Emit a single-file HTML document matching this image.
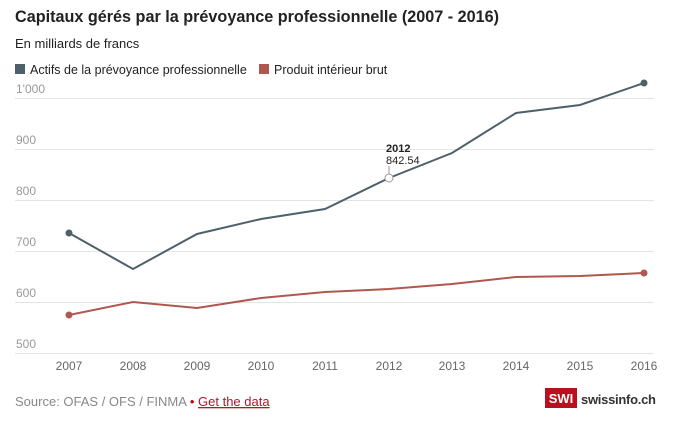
<!DOCTYPE html><html><head><meta charset="utf-8"><style>
body{margin:0;width:694px;height:440px;background:#fff;font-family:"Liberation Sans",sans-serif;overflow:hidden}
</style></head><body>
<svg width="694" height="440" xmlns="http://www.w3.org/2000/svg" font-family="Liberation Sans, sans-serif">
<text x="15" y="22" font-size="16.2" font-weight="bold" fill="#222">Capitaux gérés par la prévoyance professionnelle (2007 - 2016)</text>
<text x="15" y="48" font-size="13" fill="#222">En milliards de francs</text>
<rect x="15" y="64" width="10" height="10" fill="#4e616b"/>
<text x="30" y="74" font-size="12.5" fill="#222">Actifs de la prévoyance professionnelle</text>
<rect x="259" y="64" width="10" height="10" fill="#b05850"/>
<text x="274" y="74" font-size="12.5" fill="#222">Produit intérieur brut</text>
<g stroke="#e4e4e4" stroke-width="1">
<line x1="15" x2="654" y1="98.5" y2="98.5"/><line x1="15" x2="654" y1="149.5" y2="149.5"/>
<line x1="15" x2="654" y1="200.5" y2="200.5"/><line x1="15" x2="654" y1="251.5" y2="251.5"/>
<line x1="15" x2="654" y1="302.5" y2="302.5"/><line x1="15" x2="654" y1="353.5" y2="353.5"/>
</g>
<g font-size="12" fill="#999">
<text x="16" y="93">1'000</text><text x="16" y="144">900</text><text x="16" y="195">800</text>
<text x="16" y="246">700</text><text x="16" y="297">600</text><text x="16" y="348">500</text>
</g>
<g font-size="12" fill="#666" text-anchor="middle">
<text x="69" y="370">2007</text><text x="133" y="370">2008</text><text x="197" y="370">2009</text>
<text x="261" y="370">2010</text><text x="325" y="370">2011</text><text x="389" y="370">2012</text>
<text x="452" y="370">2013</text><text x="516" y="370">2014</text><text x="580" y="370">2015</text><text x="644" y="370">2016</text>
</g>
<polyline fill="none" stroke="#4e616b" stroke-width="2" points="69,233 133,269 197,234 261,219 325,209 389,178 452,153 516,113 580,105 644,83"/>
<polyline fill="none" stroke="#b05850" stroke-width="2" points="69,315 133,302 197,308 261,298 325,292 389,289 452,284 516,277 580,276 644,273"/>
<circle cx="69" cy="233" r="3.5" fill="#4e616b"/><circle cx="644" cy="83" r="3.5" fill="#4e616b"/>
<circle cx="69" cy="315" r="3.5" fill="#b05850"/><circle cx="644" cy="273" r="3.5" fill="#b05850"/>
<line x1="389" y1="166" x2="389" y2="174" stroke="#999"/>
<circle cx="389" cy="178" r="4" fill="#fff" stroke="#999"/>
<text x="386" y="152" font-size="11" font-weight="bold" fill="#222">2012</text>
<text x="386" y="164" font-size="11" fill="#222">842.54</text>
<text x="15" y="406" font-size="13" fill="#888">Source: OFAS / OFS / FINMA <tspan fill="#c00">•</tspan> <tspan fill="#b0192a" text-decoration="underline">Get the data</tspan></text>
<rect x="545" y="388" width="32" height="20" fill="#b8101f"/>
<text x="561" y="403" font-size="13" font-weight="bold" fill="#fff" text-anchor="middle">SWI</text>
<text x="581" y="404" font-size="13" font-weight="bold" fill="#333" textLength="75">swissinfo.ch</text>
</svg>
</body></html>
